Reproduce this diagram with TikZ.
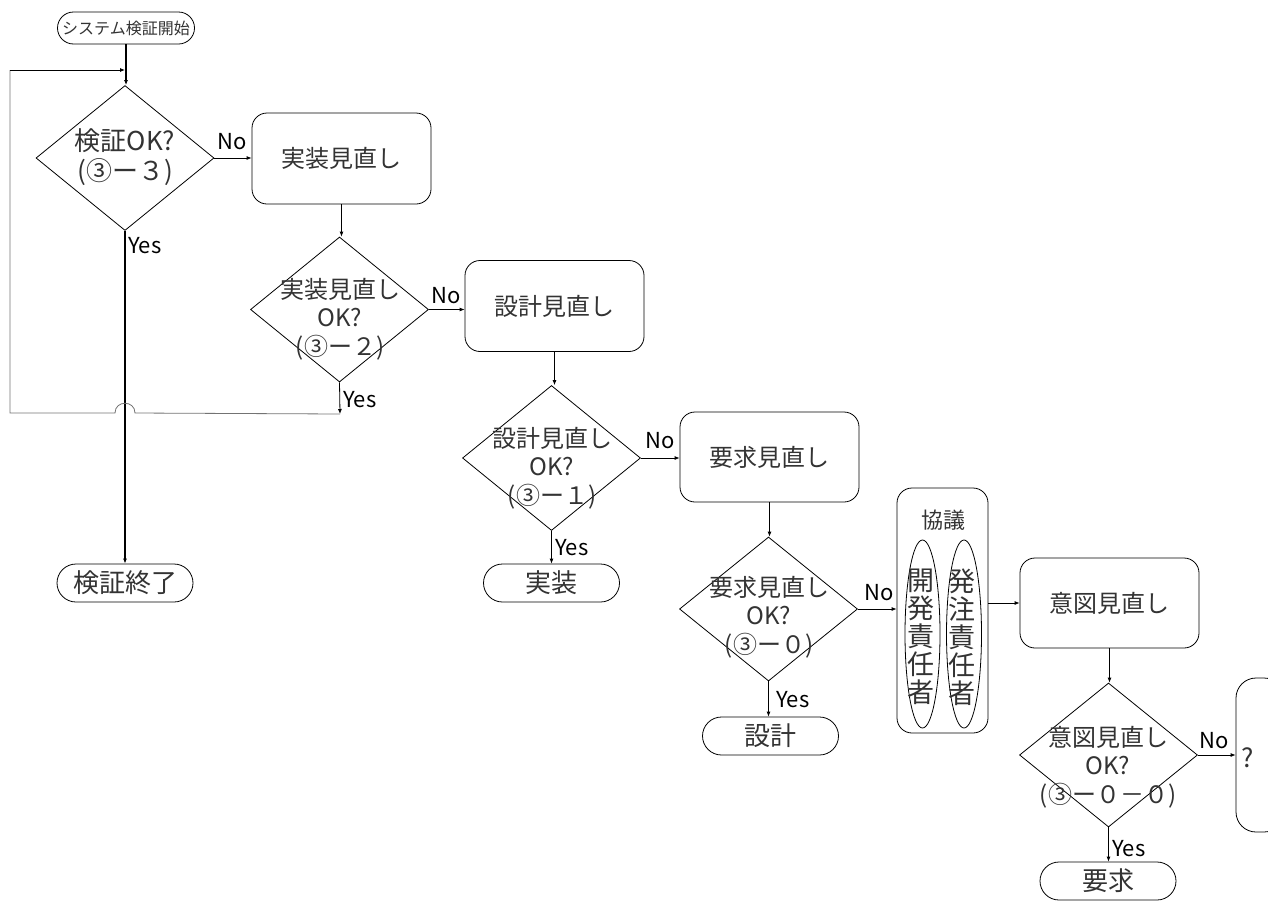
\documentclass[tikz,border=0pt]{standalone}
\usepackage{fontspec}
\setmainfont{Noto Sans CJK JP}
\usetikzlibrary{shapes.geometric,arrows.meta,calc}
\begin{document}
\begin{tikzpicture}[x=1pt,y=-1pt,
  every node/.style={font=\fontsize{24}{28}\selectfont, text=black!80},
  box/.style={draw, rounded corners=15pt, minimum width=179pt, minimum height=91pt, inner sep=0pt, line width=0.8pt},
  dia/.style={draw, diamond, minimum width=178pt, minimum height=145pt, inner sep=0pt, line width=0.8pt},
  term/.style={draw, rounded corners=19pt, minimum width=136pt, minimum height=38pt, inner sep=0pt, line width=0.8pt, font=\fontsize{26}{28}\selectfont},
  dtext/.style={align=center, inner sep=0pt, font=\fontsize{24}{28.5}\selectfont},
  lbl/.style={anchor=west, inner sep=0pt, text=black, font=\fontsize{22}{24}\selectfont},
  arr/.style={-{Latex[length=5pt,width=4pt]}, line width=0.8pt},
  tarr/.style={-{Latex[length=5pt,width=4pt]}, line width=1.6pt},
  loopline/.style={line width=0.8pt, draw=black!55},
  vtext/.style={align=center, inner sep=0pt, font=\fontsize{27}{28}\selectfont},
  ell/.style={draw, ellipse, minimum width=35pt, minimum height=188pt, inner sep=0pt, line width=0.8pt}
]
\useasboundingbox (0,0) rectangle (1268,900);
\clip (0,0) rectangle (1268,900);

% start / column 1
\node[term, minimum width=137pt, minimum height=32pt, rounded corners=16pt, font=\fontsize{16}{18}\selectfont] (start) at (126,28) {システム検証開始};
\node[dia] (d1) at (125,158) {};
\node[dtext, font=\fontsize{26}{30}\selectfont] (t1) at (125,157) {検証OK?\\(③ー３)};
\node[term] (end) at (125,583) {検証終了};

% boxes
\node[box] (b1) at (341.5,158.5) {実装見直し};
\node[dia] (d2) at (339.5,309.5) {};
\node[dtext] (t2) at (340,319) {実装見直し\\OK?\\(③ー２)};

\node[box] (b2) at (554.5,306) {設計見直し};
\node[dia] (d3) at (551.5,458) {};
\node[dtext] (t3) at (552,468) {設計見直し\\OK?\\(③ー１)};
\node[term] (impl) at (551.5,583) {実装};

\node[box, minimum height=90pt] (b3) at (769.5,457) {要求見直し};
\node[dia, minimum height=144pt] (d4) at (768.5,609) {};
\node[dtext] (t4) at (769,617) {要求見直し\\OK?\\(③ー０)};
\node[term] (design) at (770.5,736) {設計};

% consultation group
\node[draw, rounded corners=15pt, minimum width=91pt, minimum height=245pt, inner sep=0pt, line width=0.8pt] (g) at (942.5,610.5) {};
\node[font=\fontsize{22}{24}\selectfont, inner sep=0pt] (gt) at (943,520) {協議};
\node[ell] (e1) at (922.5,634) {};
\node[ell] (e2) at (964,634) {};
\node[vtext] (v1) at (921,637) {開\\発\\責\\任\\者};
\node[vtext] (v2) at (962,637) {発\\注\\責\\任\\者};

\node[box, minimum height=90pt] (b4) at (1109.5,603) {意図見直し};
\node[dia, minimum height=144pt] (d5) at (1108.5,755) {};
\node[dtext] (t5) at (1108,767) {意図見直し\\OK?\\(③ー０－０)};
\node[term] (req) at (1108,881) {要求};
\node[draw, rounded corners=20pt, minimum width=48pt, minimum height=154pt, inner sep=0pt, line width=0.8pt] (q) at (1260,755) {};
\node[inner sep=0pt, font=\fontsize{26}{28}\selectfont] (qt) at (1248,758) {?};

% connectors
\draw[tarr] (start.south) -- (start.south |- d1.north);
\draw[tarr] (d1.south) -- (d1.south |- end.north);
\draw[arr] (d1.east) -- (d1.east -| b1.west);
\draw[arr] (b1.south) -- (b1.south |- d2.north);
\draw[arr] (d2.east) -- (d2.east -| b2.west);
\draw[arr] (b2.south) -- (b2.south |- d3.north);
\draw[arr] (d3.east) -- (d3.east -| b3.west);
\draw[arr] (d3.south) -- (d3.south |- impl.north);
\draw[arr] (b3.south) -- (b3.south |- d4.north);
\draw[arr] (d4.east) -- (d4.east -| g.west);
\draw[arr] (d4.south) -- (d4.south |- design.north);
\draw[arr] (g.east |- b4.west) -- (b4.west);
\draw[arr] (b4.south) -- (b4.south |- d5.north);
\draw[arr] (d5.east) -- (d5.east -| q.west);
\draw[arr] (d5.south) -- (d5.south |- req.north);

% loop back
\coordinate (lp) at (340,414);
\coordinate (ltop) at (125,70);
\draw[arr] (d2.south) -- (lp);
\draw[loopline] (lp) -- (135,413) .. controls (135,400) and (115,400) .. (115,413) -- (10,413) -- (10,70);
\draw[arr] (10,70) -- (ltop);

% labels
\node[lbl] (n1) at (217,142) {No};
\node[lbl] (n2) at (431,296) {No};
\node[lbl] (n3) at (645,441) {No};
\node[lbl] (n4) at (864,593) {No};
\node[lbl] (n5) at (1199,741) {No};
\node[lbl] (y1) at (128,246) {Yes};
\node[lbl] (y2) at (343,400) {Yes};
\node[lbl] (y3) at (555,548) {Yes};
\node[lbl] (y4) at (776,700) {Yes};
\node[lbl] (y5) at (1112,849) {Yes};
\end{tikzpicture}
\end{document}
